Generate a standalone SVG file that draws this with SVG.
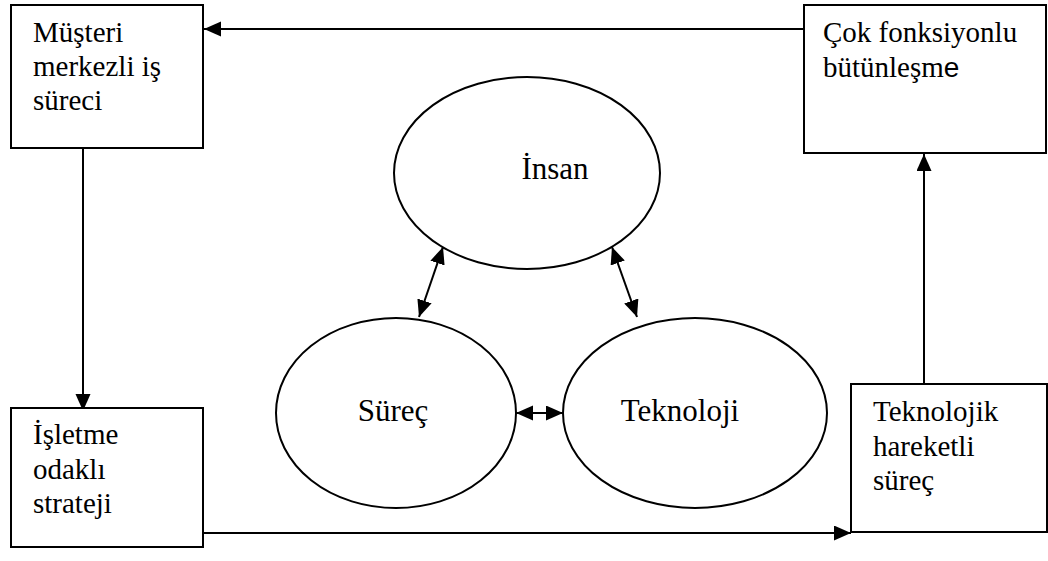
<svg xmlns="http://www.w3.org/2000/svg" width="1048" height="561" viewBox="0 0 1048 561">
<defs>
<style>
.box{fill:#fff;stroke:#000;stroke-width:2}
.ell{fill:#fff;stroke:#000;stroke-width:2}
.t{font-family:"Liberation Serif","Times New Roman",serif;font-size:29px;fill:#000}
.lbl{font-size:31px}
.c{stroke:#000;stroke-width:2;fill:none}
</style>
<marker id="ah" markerUnits="userSpaceOnUse" markerWidth="18" markerHeight="16" refX="17" refY="7.5" orient="auto-start-reverse">
<path d="M0,0 L17,7.5 L0,15 z" fill="#000"/>
</marker>
</defs>
<rect width="1048" height="561" fill="#fff"/>
<g id="connectors">
<line class="c" x1="804" y1="29" x2="204" y2="29" marker-end="url(#ah)"/>
<line class="c" x1="83" y1="148" x2="83" y2="411" marker-end="url(#ah)"/>
<line class="c" x1="203" y1="533" x2="851" y2="533" marker-end="url(#ah)"/>
<line class="c" x1="924" y1="389" x2="924" y2="154" marker-end="url(#ah)"/>
<line class="c" x1="443" y1="247" x2="419" y2="317" marker-start="url(#ah)" marker-end="url(#ah)"/>
<line class="c" x1="612" y1="247" x2="637" y2="317" marker-start="url(#ah)" marker-end="url(#ah)"/>
<line class="c" x1="516" y1="413" x2="563" y2="413" marker-start="url(#ah)" marker-end="url(#ah)"/>
</g>
<g id="musteri">
<rect class="box" x="11" y="5" width="192" height="143"/>
<text class="t" x="33" y="42">Müşteri</text>
<text class="t" x="33" y="76">merkezli iş</text>
<text class="t" x="33" y="110">süreci</text>
</g>
<g id="cok">
<rect class="box" x="804" y="5" width="242" height="148"/>
<text class="t" x="823" y="42">Çok fonksiyonlu</text>
<text class="t" x="823" y="77">bütünleşm<tspan font-family="'Liberation Sans',Arial,sans-serif" font-size="28">e</tspan></text>
</g>
<g id="isletme">
<rect class="box" x="11" y="408" width="192" height="139"/>
<text class="t" x="33" y="444">İşletme</text>
<text class="t" x="33" y="479">odaklı</text>
<text class="t" x="33" y="513">strateji</text>
</g>
<g id="teknolojik">
<rect class="box" x="851" y="384" width="196" height="148"/>
<text class="t" x="873" y="421">Teknolojik</text>
<text class="t" x="873" y="456">hareketli</text>
<text class="t" x="873" y="490">süreç</text>
</g>
<g id="insan">
<ellipse class="ell" cx="527" cy="173" rx="133" ry="96"/>
<text class="t lbl" x="555" y="179" text-anchor="middle">İnsan</text>
</g>
<g id="surec">
<ellipse class="ell" cx="396" cy="413" rx="120" ry="95"/>
<text class="t lbl" x="393" y="421" text-anchor="middle">Süreç</text>
</g>
<g id="teknoloji">
<ellipse class="ell" cx="695" cy="413" rx="132" ry="95"/>
<text class="t lbl" x="680" y="421" text-anchor="middle">Teknoloji</text>
</g>
</svg>
